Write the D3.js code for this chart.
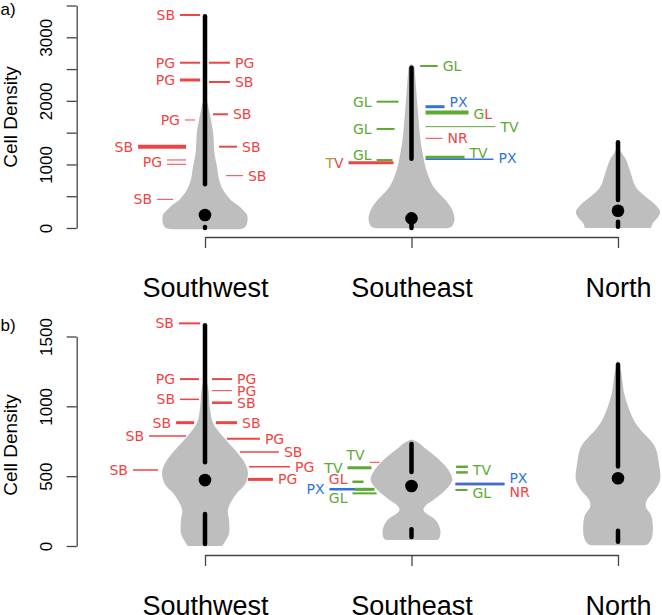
<!DOCTYPE html>
<html><head><meta charset="utf-8">
<script src="https://cdn.jsdelivr.net/npm/d3@7"></script>
<style>body{margin:0;background:#fff} svg{display:block}</style>
</head><body><svg id="c" width="662" height="615"></svg>
<script>
// ---------------- DATA ----------------
const categories = ["Southwest", "Southeast", "North"];
const ticksA = [0, 500, 1000, 1500, 2000, 2500, 3000, 3500];
const tickLabelsA = [0, 1000, 2000, 3000];
const ticksB = [0, 500, 1000, 1500];
const tickLabelsB = [0, 500, 1000, 1500];

// box stats per category: [min, q1, median, q3, max]
const boxA = [[0, 15, 205, 690, 3330], [0, 80, 152, 1090, 2520], [20, 100, 272, 440, 1350]];
const boxB = [[15, 230, 472, 600, 1580], [65, 120, 430, 530, 730], [30, 110, 485, 570, 1300]];

// violin density profiles: [value, relative half-width]
const violinA = [
  [[-20,0.79],[0,0.91],[50,0.97],[120,0.99],[205,0.98],[250,0.93],[335,0.81],[440,0.60],[600,0.42],[755,0.33],[960,0.28],[1175,0.22],[1490,0.19],[1700,0.14],[1860,0.09],[1980,0.05],[2010,0]],
  [[-5,0.80],[20,0.93],[126,1.0],[283,0.95],[440,0.79],[650,0.51],[900,0.35],[1070,0.29],[1380,0.21],[1910,0.14],[2430,0.08],[2540,0.06],[2580,0]],
  [[0,0.77],[74,0.81],[170,0.93],[252,0.98],[384,0.84],[500,0.63],[650,0.41],[900,0.28],[1070,0.19],[1200,0.07],[1300,0]]
];
const violinB = [
  [[0,0.40],[43,0.49],[90,0.56],[186,0.56],[250,0.53],[300,0.58],[377,0.74],[440,0.93],[520,1.0],[592,0.93],[687,0.70],[782,0.42],[878,0.19],[974,0.12],[1140,0.07],[1215,0]],
  [[43,0.60],[57,0.65],[115,0.67],[186,0.56],[236,0.33],[260,0.28],[290,0.33],[329,0.51],[401,0.79],[473,0.95],[544,0.86],[616,0.65],[687,0.37],[740,0.16],[762,0]],
  [[5,0.60],[15,0.70],[60,0.79],[150,0.81],[220,0.77],[280,0.65],[330,0.67],[400,0.86],[473,0.98],[592,0.95],[711,0.86],[830,0.53],[900,0.37],[1022,0.21],[1100,0.14],[1250,0.07],[1330,0]]
];

// site annotations: category, value, x-extent (offset from category, x units),
// line weight, label, group (r/g/b), optional label value and per-letter groups
const annotA = [
  {c:1, v:3351, x0:-0.121, x1:-0.024, n:2, lab:"SB", g:"r"},
  {c:1, v:2600, x0:-0.121, x1:-0.024, n:2, lab:"PG", g:"r"},
  {c:1, v:2600, x0:0.019, x1:0.121, n:2, lab:"PG", g:"r"},
  {c:1, v:2328, x0:-0.121, x1:-0.024, n:3, lab:"PG", g:"r"},
  {c:1, v:2297, x0:0.019, x1:0.121, n:2, lab:"SB", g:"r"},
  {c:1, v:1699, x0:-0.097, x1:-0.048, n:1, lab:"PG", g:"r"},
  {c:1, v:1789, x0:0.039, x1:0.111, n:2, lab:"SB", g:"r"},
  {c:1, v:1279, x0:-0.324, x1:-0.092, n:4, lab:"SB", g:"r"},
  {c:1, v:1279, x0:0.068, x1:0.155, n:2, lab:"SB", g:"r"},
  {c:1, v:1070, x0:-0.184, x1:-0.092, n:1, lab:"PG", g:"r", at:1036},
  {c:1, v:1002, x0:-0.184, x1:-0.092, n:1, lab:"", g:"r"},
  {c:1, v:823, x0:0.102, x1:0.184, n:1, lab:"SB", g:"r"},
  {c:1, v:451, x0:-0.232, x1:-0.155, n:1, lab:"SB", g:"r"},
  {c:2, v:2548, x0:0.042, x1:0.127, n:2, lab:"GL", g:"g"},
  {c:2, v:1987, x0:-0.169, x1:-0.063, n:2, lab:"GL", g:"g"},
  {c:2, v:1908, x0:0.068, x1:0.160, n:3, lab:"PX", g:"b", at:1985},
  {c:2, v:1815, x0:0.068, x1:0.276, n:4, lab:"GL", g:"g", at:1793, lg:["g","r"]},
  {c:2, v:1594, x0:0.068, x1:0.407, n:1, lab:"TV", g:"g"},
  {c:2, v:1558, x0:-0.169, x1:-0.082, n:2, lab:"GL", g:"g"},
  {c:2, v:1411, x0:0.068, x1:0.150, n:1, lab:"NR", g:"r"},
  {c:2, v:1069, x0:-0.169, x1:-0.092, n:2, lab:"GL", g:"g", at:1148},
  {c:2, v:1027, x0:-0.305, x1:-0.087, n:3, lab:"TV", g:"r", lg:["o","r"]},
  {c:2, v:1112, x0:0.068, x1:0.257, n:3, lab:"TV", g:"g", at:1174},
  {c:2, v:1081, x0:0.068, x1:0.397, n:1.5, lab:"PX", g:"b", at:1101}
];
const annotB = [
  {c:1, v:1594, x0:-0.126, x1:-0.024, n:2, lab:"SB", g:"r"},
  {c:1, v:1195, x0:-0.121, x1:-0.029, n:2, lab:"PG", g:"r"},
  {c:1, v:1195, x0:0.034, x1:0.131, n:2, lab:"PG", g:"r"},
  {c:1, v:1112, x0:0.034, x1:0.131, n:1, lab:"PG", g:"r"},
  {c:1, v:1050, x0:-0.121, x1:-0.029, n:1.5, lab:"SB", g:"r"},
  {c:1, v:1026, x0:0.034, x1:0.131, n:2.5, lab:"SB", g:"r"},
  {c:1, v:883, x0:-0.140, x1:-0.053, n:3, lab:"SB", g:"r"},
  {c:1, v:883, x0:0.053, x1:0.155, n:3, lab:"SB", g:"r"},
  {c:1, v:787, x0:-0.271, x1:-0.092, n:1.5, lab:"SB", g:"r"},
  {c:1, v:768, x0:0.107, x1:0.266, n:2, lab:"PG", g:"r"},
  {c:1, v:673, x0:0.169, x1:0.358, n:1.5, lab:"SB", g:"r"},
  {c:1, v:568, x0:0.213, x1:0.412, n:1.5, lab:"PG", g:"r"},
  {c:1, v:477, x0:0.208, x1:0.329, n:3, lab:"PG", g:"r"},
  {c:1, v:544, x0:-0.349, x1:-0.228, n:1.5, lab:"SB", g:"r"},
  {c:2, v:599, x0:-0.203, x1:-0.155, n:1, lab:"TV", g:"r", at:651, lg:["g","g"]},
  {c:2, v:560, x0:-0.310, x1:-0.194, n:3, lab:"TV", g:"g"},
  {c:2, v:460, x0:-0.286, x1:-0.232, n:2.5, lab:"GL", g:"g", at:481, lg:["r","r"]},
  {c:2, v:406, x0:-0.397, x1:-0.194, n:2.5, lab:"PX", g:"b"},
  {c:2, v:406, x0:-0.276, x1:-0.179, n:3, lab:"", g:"g"},
  {c:2, v:377, x0:-0.286, x1:-0.169, n:2, lab:"GL", g:"g", at:341},
  {c:2, v:567, x0:0.216, x1:0.273, n:2.5, lab:"TV", g:"g", at:547},
  {c:2, v:527, x0:0.216, x1:0.273, n:2.5, lab:"", g:"g"},
  {c:2, v:444, x0:0.213, x1:0.450, n:2.5, lab:"NR", g:"r", at:385},
  {c:2, v:444, x0:0.213, x1:0.450, n:2.5, lab:"PX", g:"b", at:484},
  {c:2, v:401, x0:0.213, x1:0.271, n:2, lab:"GL", g:"g", at:378}
];

// ---------------- DRAWING ----------------
const color = d3.scaleOrdinal().domain(["r","g","b","o"]).range(["#EF4444","#5EA934","#2F73E0","#A8A032"]);
const svg = d3.select("#c");
svg.append("rect").attr("width",662).attr("height",615).attr("fill","#fff");
const x = d3.scaleLinear().domain([1, 3]).range([205, 618]);
const HALF = 0.208;
const AX = 76.7;
const axisFont = "'Liberation Sans', Arial, sans-serif";
const labFont = "'DejaVu Sans', Verdana, sans-serif";

const panels = [
  {tag:"a)", tagY:14.5, domain:[0,3500], range:[228,5.5], ticks:ticksA, tl:tickLabelsA, axisY:237, ylabY:117, box:boxA, vio:violinA, ann:annotA},
  {tag:"b)", tagY:330.5, domain:[0,1500], range:[546,336.5], ticks:ticksB, tl:tickLabelsB, axisY:555, ylabY:445, box:boxB, vio:violinB, ann:annotB}
];

panels.forEach(p => {
  const y = d3.scaleLinear().domain(p.domain).range(p.range);
  const g = svg.append("g");

  // violins
  p.vio.forEach((prof, i) => {
    const cx = i + 1;
    const area = d3.area()
      .y(d => y(d[0]))
      .x0(d => x(cx - d[1] * HALF))
      .x1(d => x(cx + d[1] * HALF))
      .curve(d3.curveCatmullRom.alpha(0.5));
    g.append("path").attr("d", area(prof)).attr("fill", "#BEBEBE").attr("stroke", "none");
  });

  // annotation lines
  p.ann.forEach(a => {
    g.append("line")
      .attr("x1", x(a.c + a.x0)).attr("x2", x(a.c + a.x1))
      .attr("y1", y(a.v)).attr("y2", y(a.v))
      .attr("stroke", color(a.g)).attr("stroke-width", a.n);
  });
  // annotation labels
  p.ann.filter(a => a.lab).forEach(a => {
    const left = a.x1 <= 0;
    const t = g.append("text")
      .attr("x", left ? x(a.c + a.x0) - 5 : x(a.c + a.x1) + 5)
      .attr("y", y(a.at !== undefined ? a.at : a.v))
      .attr("dy", "0.36em")
      .attr("text-anchor", left ? "end" : "start")
      .attr("font-family", labFont).attr("font-size", 14);
    if (a.lg) {
      a.lab.split("").forEach((ch, k) => t.append("tspan").text(ch).attr("fill", color(a.lg[k])));
    } else {
      t.text(a.lab).attr("fill", color(a.g));
    }
  });

  // box whiskers + median
  p.box.forEach((b, i) => {
    const cx = x(i + 1);
    [[b[3], b[4]], [b[0], b[1]]].forEach(s => {
      g.append("line").attr("x1", cx).attr("x2", cx)
        .attr("y1", y(s[0])).attr("y2", y(s[1]))
        .attr("stroke", "#000").attr("stroke-width", 4.5).attr("stroke-linecap", "round");
    });
    g.append("circle").attr("cx", cx).attr("cy", y(b[2])).attr("r", 6.3).attr("fill", "#000");
  });

  // y axis
  const ya = g.append("g").attr("transform", `translate(${AX},0)`)
    .call(d3.axisLeft(y).tickValues(p.ticks).tickSize(10).tickSizeOuter(0)
      .tickFormat(d => p.tl.includes(d) ? String(d) : ""));
  ya.select(".domain").attr("stroke", "#444").attr("stroke-width", 1.3);
  ya.selectAll(".tick line").attr("stroke", "#444").attr("stroke-width", 1.3);
  ya.selectAll(".tick text")
    .attr("transform", "rotate(-90)").attr("x", 0).attr("y", -24.5).attr("dy", 0)
    .attr("text-anchor", "middle").attr("font-family", axisFont).attr("font-size", 17).attr("fill", "#000");

  // x axis
  const xa = g.append("g").attr("transform", `translate(0,${p.axisY})`)
    .call(d3.axisBottom(x).tickValues([1, 2, 3]).tickSize(11).tickSizeOuter(0)
      .tickFormat(d => categories[d - 1]));
  xa.select(".domain").attr("stroke", "#444").attr("stroke-width", 1.3);
  xa.selectAll(".tick line").attr("stroke", "#444").attr("stroke-width", 1.3);
  xa.selectAll(".tick text").attr("y", 59.5).attr("dy", 0)
    .attr("font-family", axisFont).attr("font-size", 27).attr("fill", "#000");

  // y label + tag
  g.append("text").attr("transform", `translate(17,${p.ylabY}) rotate(-90)`)
    .attr("text-anchor", "middle").attr("font-family", axisFont).attr("font-size", 19)
    .text("Cell Density");
  g.append("text").attr("x", 0.5).attr("y", p.tagY)
    .attr("font-family", axisFont).attr("font-size", 17).text(p.tag);
});
</script>
</body></html>
